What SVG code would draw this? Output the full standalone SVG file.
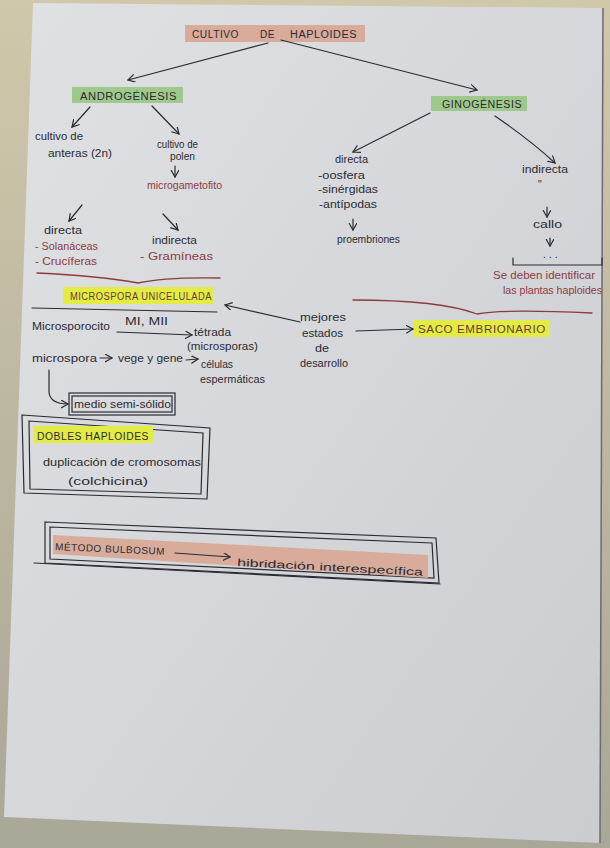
<svg xmlns="http://www.w3.org/2000/svg" width="610" height="848" viewBox="0 0 610 848">
<defs>
<linearGradient id="bg" x1="0" y1="0" x2="0" y2="1">
<stop offset="0" stop-color="#cfc8aa"/>
<stop offset="1" stop-color="#a9a797"/>
</linearGradient>
<linearGradient id="paper" x1="0" y1="0" x2="1" y2="1">
<stop offset="0" stop-color="#e0e1e3"/>
<stop offset="0.5" stop-color="#d6d7da"/>
<stop offset="1" stop-color="#cbccd0"/>
</linearGradient>
<marker id="ah" markerWidth="10" markerHeight="10" refX="7" refY="4" orient="auto" markerUnits="userSpaceOnUse">
<path d="M0,0 L7,4 L0,8" fill="none" stroke="#2a2b33" stroke-width="1.2"/>
</marker>
</defs>
<style>
.t{font-family:"Liberation Sans","DejaVu Sans",sans-serif;font-size:10.5px;fill:#2a2b33}
.r{fill:#8c3b3f}
.cap{font-size:10px;letter-spacing:0.5px}
.br{fill:#6a3a32}
.ln{fill:none;stroke:#2a2b33;stroke-width:1.2;stroke-linecap:round}
.rl{fill:none;stroke:#8c3b3f;stroke-width:1.3;stroke-linecap:round}
.hs{fill:#d9ab9b}
.hg{fill:#9fc98c}
.hy{fill:#e2ec45}
.box{fill:none;stroke:#2a2b33;stroke-width:1.2}
</style>
<rect width="610" height="848" fill="url(#bg)"/>
<polygon points="33,3 603,8 600,843 4,817" fill="url(#paper)"/>
<line x1="603" y1="8" x2="600" y2="843" stroke="#6b6c70" stroke-width="1.5"/>

<g id="title">
<rect class="hs" x="185" y="25" width="180" height="17"/>
<text class="t cap" y="38"><tspan x="192" textLength="47" lengthAdjust="spacingAndGlyphs">CULTIVO</tspan><tspan x="260" textLength="15" lengthAdjust="spacingAndGlyphs">DE</tspan><tspan x="290" textLength="67" lengthAdjust="spacingAndGlyphs">HAPLOIDES</tspan></text>
</g>

<g id="androgenesis">
<rect class="hg" x="72" y="87" width="111" height="16"/>
<text class="t cap" x="80" y="100" textLength="97" lengthAdjust="spacingAndGlyphs">ANDROGÉNESIS</text>
</g>

<g id="ginogenesis">
<rect class="hg" x="431" y="96" width="96" height="15"/>
<text class="t cap" x="442" y="108" textLength="80" lengthAdjust="spacingAndGlyphs">GINOGÉNESIS</text>
</g>

<g id="cultivo-anteras">
<text class="t" x="35" y="140" textLength="48" lengthAdjust="spacingAndGlyphs">cultivo de</text>
<text class="t" x="48" y="157" textLength="64" lengthAdjust="spacingAndGlyphs">anteras (2n)</text>
</g>

<g id="cultivo-polen">
<text class="t" x="157" y="148" textLength="41" lengthAdjust="spacingAndGlyphs">cultivo de</text>
<text class="t" x="170" y="160" textLength="25" lengthAdjust="spacingAndGlyphs">polen</text>
<text class="t r" x="147" y="189" textLength="75" lengthAdjust="spacingAndGlyphs">microgametofito</text>
</g>

<g id="andro-directa">
<text class="t" x="44" y="234" textLength="38" lengthAdjust="spacingAndGlyphs">directa</text>
<text class="t r" x="35" y="250" textLength="63" lengthAdjust="spacingAndGlyphs">- Solanáceas</text>
<text class="t r" x="35" y="265" textLength="62" lengthAdjust="spacingAndGlyphs">- Crucíferas</text>
</g>

<g id="andro-indirecta">
<text class="t" x="152" y="244" textLength="45" lengthAdjust="spacingAndGlyphs">indirecta</text>
<text class="t r" x="140" y="260" textLength="73" lengthAdjust="spacingAndGlyphs">- Gramíneas</text>
</g>

<g id="gino-directa">
<text class="t" x="335" y="163" textLength="33" lengthAdjust="spacingAndGlyphs">directa</text>
<text class="t" x="318" y="179" textLength="47" lengthAdjust="spacingAndGlyphs">-oosfera</text>
<text class="t" x="318" y="193" textLength="60" lengthAdjust="spacingAndGlyphs">-sinérgidas</text>
<text class="t" x="319" y="208" textLength="58" lengthAdjust="spacingAndGlyphs">-antípodas</text>
<text class="t" x="337" y="243" textLength="63" lengthAdjust="spacingAndGlyphs">proembriones</text>
</g>

<g id="gino-indirecta">
<text class="t" x="522" y="173" textLength="46" lengthAdjust="spacingAndGlyphs">indirecta</text>
<text class="t" x="538" y="188">"</text>
<text class="t" x="533" y="228" textLength="29" lengthAdjust="spacingAndGlyphs">callo</text>
<text class="t" x="543" y="258">. . .</text>
<text class="t r" x="493" y="279" textLength="102" lengthAdjust="spacingAndGlyphs">Se deben identificar</text>
<text class="t r" x="503" y="294" textLength="99" lengthAdjust="spacingAndGlyphs">las plantas haploides</text>
</g>

<g id="microspora">
<rect class="hy" x="63" y="287" width="151" height="17"/>
<text class="t cap br" x="70" y="300" textLength="142" lengthAdjust="spacingAndGlyphs">MICROSPORA UNICELULADA</text>
<text class="t" x="32" y="330" textLength="78" lengthAdjust="spacingAndGlyphs">Microsporocito</text>
<text class="t" x="125" y="325" font-size="9" textLength="43" lengthAdjust="spacingAndGlyphs">MI, MII</text>
<text class="t" x="194" y="336" textLength="37" lengthAdjust="spacingAndGlyphs">tétrada</text>
<text class="t" x="187" y="350" textLength="71" lengthAdjust="spacingAndGlyphs">(microsporas)</text>
<text class="t" x="32" y="362" textLength="65" lengthAdjust="spacingAndGlyphs">microspora</text>
<text class="t" x="118" y="362" textLength="65" lengthAdjust="spacingAndGlyphs">vege y gene</text>
<text class="t" x="201" y="368" textLength="32" lengthAdjust="spacingAndGlyphs">células</text>
<text class="t" x="200" y="383" textLength="65" lengthAdjust="spacingAndGlyphs">espermáticas</text>
</g>

<g id="mejores">
<text class="t" x="300" y="321" textLength="46" lengthAdjust="spacingAndGlyphs">mejores</text>
<text class="t" x="302" y="337" textLength="41" lengthAdjust="spacingAndGlyphs">estados</text>
<text class="t" x="315" y="352" textLength="14" lengthAdjust="spacingAndGlyphs">de</text>
<text class="t" x="300" y="367" textLength="48" lengthAdjust="spacingAndGlyphs">desarrollo</text>
</g>

<g id="saco">
<rect class="hy" x="413" y="320" width="137" height="17"/>
<text class="t cap br" x="418" y="333" textLength="128" lengthAdjust="spacingAndGlyphs">SACO EMBRIONARIO</text>
</g>

<g id="medio">
<rect class="box" x="69" y="393" width="106" height="22"/>
<rect class="box" x="72" y="396" width="100" height="16" stroke-width="0.6"/>
<text class="t" x="74" y="408" textLength="97" lengthAdjust="spacingAndGlyphs">medio semi-sólido</text>
</g>

<g id="dobles">
<polygon class="box" points="22,415 210,428 207,499 24,493"/>
<polygon class="box" points="29,421 203,433 201,494 30,489" stroke-width="0.8"/>
<rect class="hy" x="34" y="426" width="119" height="17"/>
<text class="t cap" x="37" y="440" textLength="112" lengthAdjust="spacingAndGlyphs">DOBLES HAPLOIDES</text>
<text class="t" x="43" y="466" textLength="158" lengthAdjust="spacingAndGlyphs">duplicación de cromosomas</text>
<text class="t" x="68" y="485" textLength="80" lengthAdjust="spacingAndGlyphs">(colchicina)</text>
</g>

<g id="bulbosum">
<polygon class="box" points="45,522 436,538 439,583 45,563"/>
<polygon class="box" points="50,527 432,543 434,578 50,559" stroke-width="0.8"/>
<line class="ln" x1="34" y1="563" x2="440" y2="584"/>
<polygon class="hs" points="53,535 428,555 428,578 53,554"/>
<text class="t cap" x="55" y="550" transform="rotate(2.5 55 550)" textLength="110" lengthAdjust="spacingAndGlyphs">MÉTODO BULBOSUM</text>
<text class="t" x="237" y="566" font-size="12" transform="rotate(3 237 566)" textLength="186" lengthAdjust="spacingAndGlyphs">hibridación interespecífica</text>
</g>

<g id="connectors">
<path class="ln" d="M268,43 L128,80" marker-end="url(#ah)"/>
<path class="ln" d="M281,40 L477,90" marker-end="url(#ah)"/>
<path class="ln" d="M90,107 L72,127" marker-end="url(#ah)"/>
<path class="ln" d="M152,106 L179,134" marker-end="url(#ah)"/>
<path class="ln" d="M175,166 L175,177" marker-end="url(#ah)"/>
<path class="ln" d="M82,205 L69,221" marker-end="url(#ah)"/>
<path class="ln" d="M163,214 L178,230" marker-end="url(#ah)"/>
<path class="ln" d="M430,113 L353,152" marker-end="url(#ah)"/>
<path class="ln" d="M495,116 Q530,140 555,163" marker-end="url(#ah)"/>
<path class="ln" d="M353,219 L353,230" marker-end="url(#ah)"/>
<path class="ln" d="M547,207 L547,217" marker-end="url(#ah)"/>
<path class="ln" d="M550,238 L550,246" marker-end="url(#ah)"/>
<path class="ln" d="M513,258 L513,265 L602,265 L602,258"/>
<path class="rl" d="M37,273 Q100,276 138,283 Q165,277 220,278"/>
<path class="rl" d="M353,300 Q440,300 477,314 Q500,309 592,313"/>
<path class="ln" d="M32,308 L217,312"/>
<path class="ln" d="M300,322 L225,305" marker-end="url(#ah)"/>
<path class="ln" d="M356,331 L413,329" marker-end="url(#ah)"/>
<path class="ln" d="M117,332 L192,335" marker-end="url(#ah)"/>
<path class="ln" d="M100,358 L112,358" marker-end="url(#ah)"/>
<path class="ln" d="M186,360 L198,359" marker-end="url(#ah)"/>
<path class="ln" d="M49,370 L49,392 Q50,404 68,404" marker-end="url(#ah)"/>
<path class="ln" d="M175,553 L230,557" marker-end="url(#ah)"/>
</g>
</svg>
